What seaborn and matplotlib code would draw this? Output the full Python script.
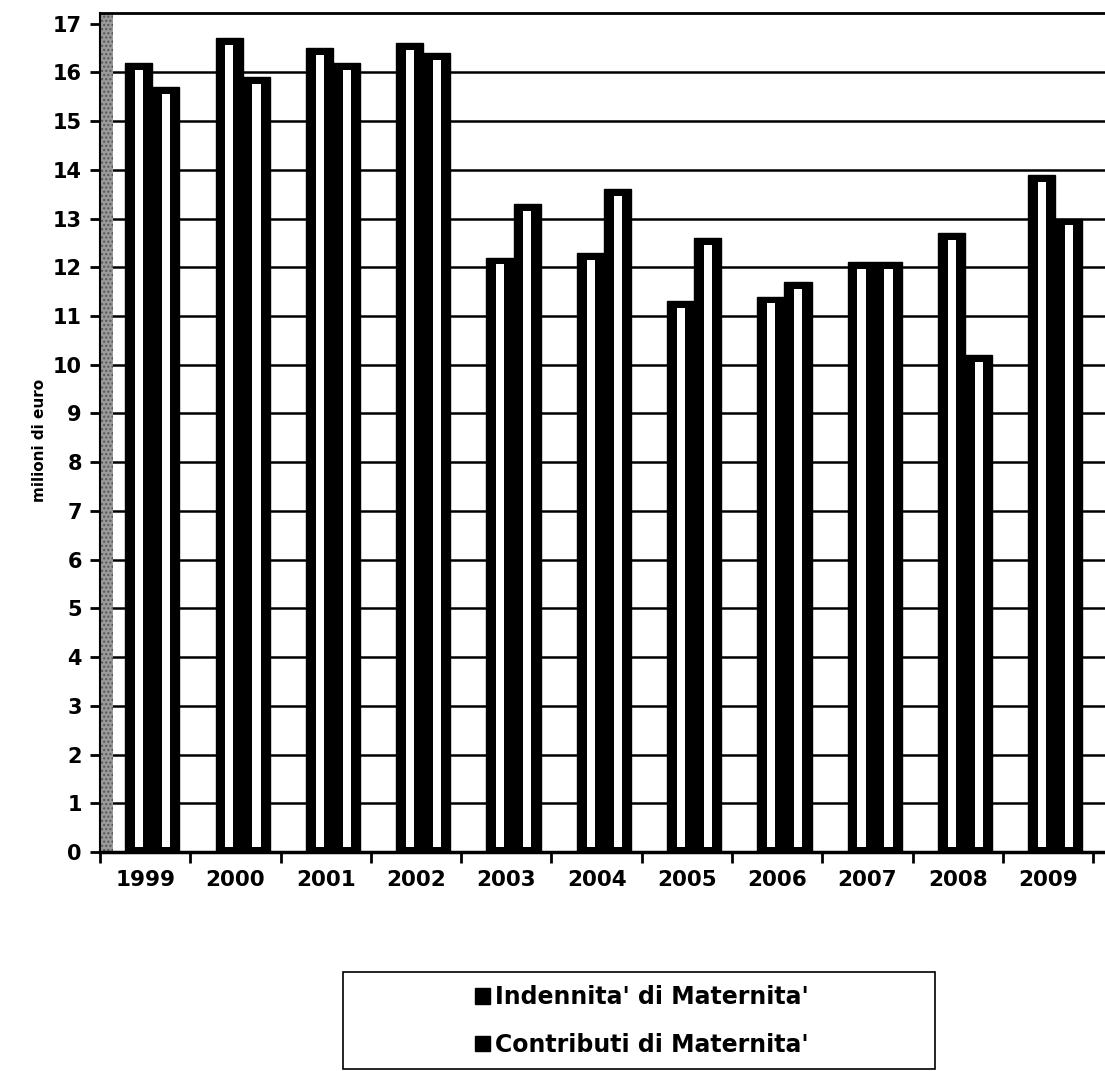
import matplotlib
matplotlib.use('Agg')
import matplotlib.pyplot as plt
import seaborn as sns
import pandas as pd
import numpy as np
from matplotlib.patches import Rectangle, Patch

years = ['1999', '2000', '2001', '2002', '2003', '2004', '2005', '2006', '2007', '2008', '2009']
indennita = [16.2, 16.7, 16.5, 16.6, 12.2, 12.3, 11.3, 11.4, 12.1, 12.7, 13.9]
contributi = [15.7, 15.9, 16.2, 16.4, 13.3, 13.6, 12.6, 11.7, 12.1, 10.2, 13.0]
series_names = ["Indennita' di Maternita'", "Contributi di Maternita'"]
y_ticks = list(range(0, 18))
y_label = 'milioni di euro'

df = pd.DataFrame({
    'anno': years * 2,
    'valore': indennita + contributi,
    'serie': [series_names[0]] * len(years) + [series_names[1]] * len(years),
})

sns.set_theme(style='white')
plt.rcParams['font.family'] = ['DejaVu Sans']
plt.rcParams['font.weight'] = 'bold'
plt.rcParams['text.color'] = 'black'
plt.rcParams['xtick.color'] = 'black'
plt.rcParams['ytick.color'] = 'black'
plt.rcParams['axes.labelcolor'] = 'black'

W, H = 1105, 1071
fig = plt.figure(figsize=(W / 100, H / 100), dpi=100)
ax = fig.add_axes([100 / W, 1 - 852 / H, 1 - 100 / W, (852 - 13) / H])

sns.barplot(data=df, x='anno', y='valore', hue='serie', palette=['black', 'black'],
            width=0.6, saturation=1, legend=False, ax=ax, zorder=2)

bars = list(ax.patches)
for p in bars:
    p.set_x(p.get_x() + 0.08)
    p.set_edgecolor('black')
    x0, w, h = p.get_x(), p.get_width(), p.get_height()
    ax.add_patch(Rectangle((x0 + w * 0.36, 0.1), w * 0.3, h - 0.1 - 0.14,
                           facecolor='white', edgecolor='none', zorder=3))

ax.set_xlim(-0.5, 10.63)
ax.set_ylim(0, 17.22)
ax.set_yticks(y_ticks)
ax.set_yticklabels([str(v) for v in y_ticks], fontsize=15, fontweight='bold', color='black')
ax.yaxis.grid(True, color='black', linewidth=1.8)
ax.xaxis.grid(False)
ax.set_axisbelow(True)

ax.set_xticks(range(len(years)))
ax.set_xticklabels(years, fontsize=15.5, fontweight='bold', color='black')
ax.set_xticks(np.arange(-0.5, len(years), 1), minor=True)
ax.tick_params(axis='x', which='major', length=0, pad=13)
ax.tick_params(axis='x', which='minor', length=8, width=2, color='black', bottom=True)
ax.tick_params(axis='y', which='major', length=7, width=2, color='black', left=True, pad=6)
ax.set_xlabel('')
ax.set_ylabel('')

fig.canvas.draw()
ygl = ax.get_ygridlines()
ygl[-1].set_visible(False)
ygl[0].set_visible(False)

# left wall
ax.add_patch(Rectangle((0, 0), 13 / 1005, 1, transform=ax.transAxes, facecolor='#9a9a9a',
                       edgecolor='#555555', hatch='....', linewidth=0, zorder=1))

for s in ['left', 'bottom', 'top']:
    ax.spines[s].set_visible(True)
    ax.spines[s].set_color('black')
ax.spines['left'].set_linewidth(1.5)
ax.spines['bottom'].set_linewidth(2.5)
ax.spines['top'].set_linewidth(2)
ax.spines['right'].set_visible(False)

fig.text(40 / W, 1 - 440 / H, y_label, rotation=90, fontsize=11, fontweight='bold',
         ha='center', va='center', color='black')

fig.patches.append(Rectangle((343 / W, 1 - 1069 / H), 592 / W, 97 / H, transform=fig.transFigure,
                             fill=False, edgecolor='black', linewidth=1.2))
handles = [Patch(facecolor='black', edgecolor='black') for _ in series_names]
leg = fig.legend(handles, series_names, loc='center', bbox_to_anchor=(642 / W, 1 - 1021 / H),
                 frameon=False, prop={'size': 17, 'weight': 'bold'}, handlelength=0.65,
                 handleheight=0.65, handletextpad=0.2, labelspacing=1.0)
for t in leg.get_texts():
    t.set_color('black')

fig.savefig('out.png', dpi=100)
